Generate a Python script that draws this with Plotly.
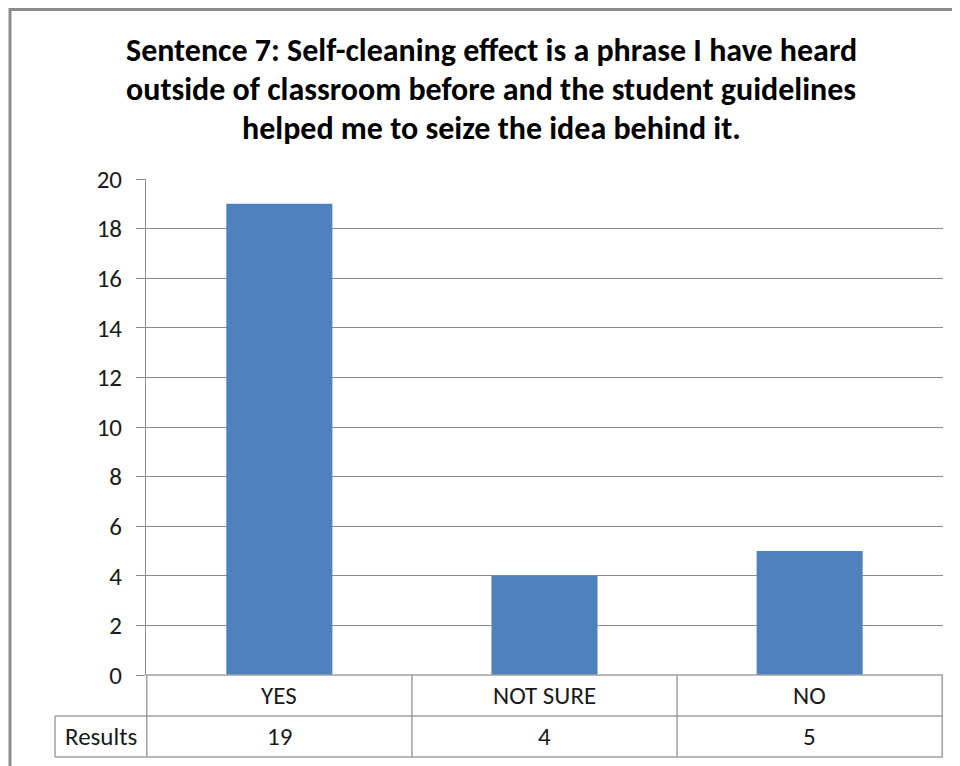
import plotly.graph_objects as go

categories = ["YES", "NOT SURE", "NO"]
results = [19, 4, 5]
series_name = "Results"
y_ticks = list(range(0, 21, 2))
title_lines = [
    "Sentence 7: Self-cleaning effect is a phrase I have heard",
    "outside of classroom before and the student guidelines",
    "helped me to seize the idea behind it.",
]

OFF = 8  # default page body margin
W, H = 960 - OFF, 766 - OFF
# page-pixel positions of the plot area
PL, PR, PT, PB = 146, 943, 179, 675
L, T = PL - OFF, PT - OFF
R, B = W - (PR - OFF), H - (PB - OFF)
pw, ph = W - L - R, H - T - B

def px_x(x):
    return (x - OFF - L) / pw

def px_y(y):
    return (H - B - (y - OFF)) / ph

fig = go.Figure()
fig.add_trace(go.Bar(x=categories, y=results, marker=dict(color="#4F81BD", line=dict(width=0)),
                     name=series_name, hoverinfo="x+y"))

line_col = "#A0A0A0"
font_main = "Carlito, Calibri, 'Open Sans', sans-serif"
txt_col = "#1a1a1a"
fs = 25
shapes = []
# outer frame
shapes.append(dict(type="rect", xref="paper", yref="paper", x0=px_x(10), x1=px_x(990), y0=px_y(800), y1=px_y(9.5),
                   line=dict(color="#8C8C8C", width=3), layer="below"))
row1 = px_y(716)
row2 = px_y(757)
left_cell = px_x(55)
shapes.append(dict(type="line", xref="paper", yref="paper", x0=0, x1=1, y0=0, y1=0, line=dict(color=line_col, width=1.5)))
shapes.append(dict(type="line", xref="paper", yref="paper", x0=left_cell, x1=1, y0=row1, y1=row1, line=dict(color=line_col, width=1.5)))
shapes.append(dict(type="line", xref="paper", yref="paper", x0=left_cell, x1=1, y0=row2, y1=row2, line=dict(color=line_col, width=1.5)))
shapes.append(dict(type="line", xref="paper", yref="paper", x0=left_cell, x1=left_cell, y0=row1, y1=row2, line=dict(color=line_col, width=1.5)))
for b in [-0.5, 0.5, 1.5, 2.5]:
    shapes.append(dict(type="line", xref="x", yref="paper", x0=b, x1=b, y0=0, y1=row2, line=dict(color=line_col, width=1.5)))

annotations = []
for c, v in zip(categories, results):
    annotations.append(dict(x=c, y=(0 + row1) / 2, xref="x", yref="paper", text=c, showarrow=False,
                            font=dict(size=fs, color=txt_col, family=font_main), xanchor="center", yanchor="middle"))
    annotations.append(dict(x=c, y=(row1 + row2) / 2, xref="x", yref="paper", text=str(v), showarrow=False,
                            font=dict(size=fs, color=txt_col, family=font_main), xanchor="center", yanchor="middle"))
annotations.append(dict(x=(left_cell + 0) / 2, y=(row1 + row2) / 2, xref="paper", yref="paper", text=series_name,
                        showarrow=False, font=dict(size=fs, color=txt_col, family=font_main),
                        xanchor="center", yanchor="middle"))
title_y = [50, 89, 128]
for t, yy in zip(title_lines, title_y):
    annotations.append(dict(x=px_x(491), y=px_y(yy), xref="paper", yref="paper", text="<b>" + t + "</b>",
                            showarrow=False, font=dict(size=32, color="#000000", family=font_main),
                            xanchor="center", yanchor="middle"))

fig.update_layout(
    width=W, height=H,
    margin=dict(l=L, r=R, t=T, b=B, pad=0),
    paper_bgcolor="white", plot_bgcolor="white",
    showlegend=False,
    bargap=0.6,
    shapes=shapes,
    annotations=annotations,
    xaxis=dict(showticklabels=False, showgrid=False, zeroline=False, showline=False, ticks=""),
    yaxis=dict(range=[0, 20], tickvals=y_ticks, showgrid=True, gridcolor="#8C8C8C", gridwidth=1,
               zeroline=False, showline=True, linecolor="#8C8C8C", linewidth=1,
               ticks="outside", ticklen=9, tickcolor="#8C8C8C", ticklabelstandoff=9,
               tickfont=dict(size=fs, color=txt_col, family=font_main)),
)

fig.write_html("out.html")
